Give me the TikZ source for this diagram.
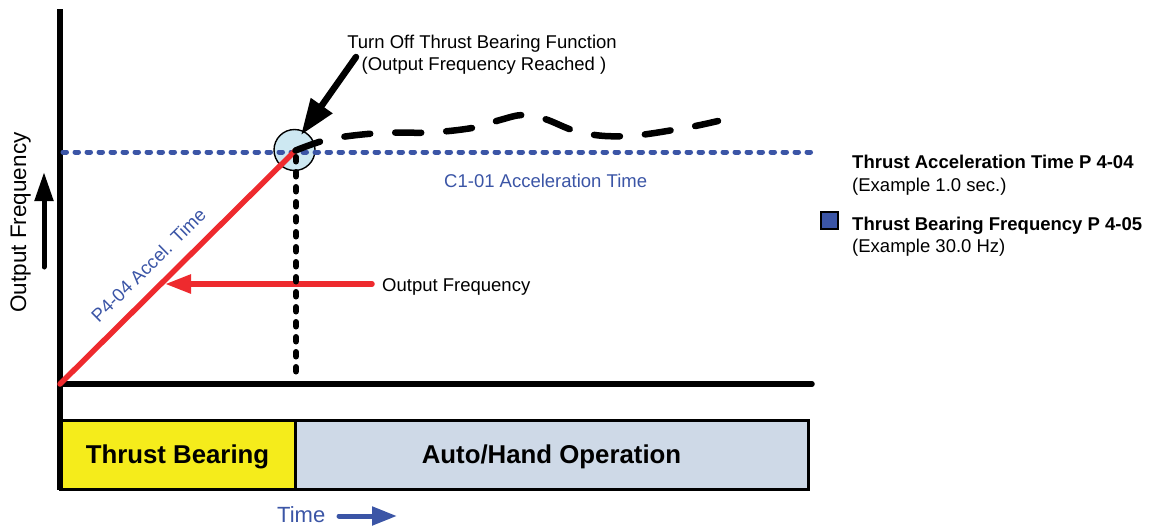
\documentclass[tikz,border=0pt]{standalone}
\usepackage{fontspec}
\setmainfont{Liberation Sans}
\usetikzlibrary{arrows.meta}
\definecolor{tblue}{HTML}{3B55A6}
\definecolor{tred}{HTML}{EE2A2E}
\definecolor{tyellow}{HTML}{F5EC1B}
\definecolor{tgray}{HTML}{CED9E7}
\definecolor{tcirc}{HTML}{CDE8F2}
\begin{document}
\begin{tikzpicture}[x=1pt,y=-1pt,
  lbl/.style={font=\fontsize{18.5}{22}\selectfont, inner sep=0pt},
  blbl/.style={font=\fontsize{18.5}{22}\selectfont\bfseries, inner sep=0pt},
  biglbl/.style={font=\fontsize{22.5}{26}\selectfont, inner sep=0pt},
  boxlbl/.style={font=\fontsize{25.8}{30}\selectfont\bfseries, inner sep=0pt,
    draw=black, line width=3pt, text height=18.5pt, text depth=0pt, minimum height=69pt},
  axisline/.style={line width=5.5pt},
  bluedots/.style={draw=tblue, line width=5pt, dash pattern=on 3.5pt off 8.5pt, line cap=round},
  blackdots/.style={draw=black, line width=6pt, dash pattern=on 4.5pt off 10.5pt, line cap=round},
  curvedash/.style={draw=black, line width=6.5pt, dash pattern=on 26pt off 25pt, line cap=round},
  redline/.style={draw=tred, line width=5.5pt},
  bigarrow/.style={line width=6.5pt, line cap=round, -{Triangle[length=36pt,width=25pt]}},
]
\useasboundingbox (0,0) rectangle (1155,525);

% bottom boxes
\node[boxlbl, fill=tyellow, minimum width=235pt] (tb) at (177.5,454.5) {Thrust Bearing};
\node[boxlbl, fill=tgray, minimum width=513pt] (ah) at (551.5,454.5) {Auto/Hand Operation};

% key coordinates
\coordinate (O) at (60,384);
\coordinate (ytop) at (60,9);
\coordinate (ybot) at (60,490);
\coordinate (xend) at (812,384);
\coordinate (P) at (295.5,150.5);
\coordinate (dl) at (63,152);
\coordinate (dr) at (815,152);
\coordinate (vtop) at (296,157);
\coordinate (vbot) at (296,381);

% circle marker
\node[circle, draw=black, line width=1.4pt, fill=tcirc, minimum size=41pt, inner sep=0pt] (circ) at (294.5,150) {};

% axes
\draw[axisline] (ytop) -- (ybot);
\draw[axisline, line cap=round] (O) -- (xend);

% dotted frequency level
\draw[bluedots] (dl) -- (dr);

% red ramp
\draw[redline, line cap=round] (O) -- (P);

% red arrow to ramp
\coordinate (rs) at (372,284);
\coordinate (re) at (165,284);
\draw[draw=tred, line width=5.5pt, line cap=round, -{Triangle[length=26pt,width=18pt]}, color=tred] (rs) -- (re);

% vertical dotted marker
\draw[blackdots] (vtop) -- (vbot);

% dashed output curve
\draw[curvedash] plot[smooth, tension=0.55] coordinates {(P) (330,139) (380,133) (430,132.5) (472,128) (500,120) (522,115) (545,119) (575,131) (605,136) (640,135) (690,127) (718,121)};

% black pointer arrow
\coordinate (bs) at (356,57);
\coordinate (be) at (301,135);
\draw[bigarrow] (bs) -- (be);

% y axis arrow
\coordinate (ys) at (44,267);
\coordinate (ye) at (44,172);
\draw[line width=5pt, line cap=round, -{Triangle[length=29pt,width=18pt]}] (ys) -- (ye);

% texts
\node[lbl, anchor=base] (turnoff) at (482,48) {Turn Off Thrust Bearing Function};
\node[lbl, anchor=base] (reached) at (484,70) {(Output Frequency Reached )};
\node[lbl, text=tblue, anchor=base west] (c101) at (444,187) {C1-01 Acceleration Time};
\node[lbl, anchor=base west] (ofreq) at (382,291) {Output Frequency};
\node[lbl, text=tblue, anchor=base, rotate=44.6] (p404) at (153,270) {P4-04 Accel. Time};
\node[biglbl, anchor=base, rotate=90] (yax) at (26,222.5) {Output Frequency};

% legend
\node[blbl, anchor=base west] (lg1) at (852,168) {Thrust Acceleration Time P 4-04};
\node[lbl, anchor=base west] (lg2) at (852,191) {(Example 1.0 sec.)};
\node[draw=black, line width=1.5pt, fill=tblue, minimum size=17pt, inner sep=0pt] (sq) at (829.5,220.5) {};
\node[blbl, anchor=base west] (lg3) at (852,230) {Thrust Bearing Frequency P 4-05};
\node[lbl, anchor=base west] (lg4) at (852,252) {(Example 30.0 Hz)};

% time label
\node[font=\fontsize{22}{26}\selectfont, inner sep=0pt, text=tblue, anchor=base west] (time) at (277,522) {Time};
\coordinate (ts) at (339,516);
\coordinate (te) at (397,516);
\draw[draw=tblue, line width=5pt, line cap=round, -{Triangle[length=25pt,width=18pt]}, color=tblue] (ts) -- (te);
\end{tikzpicture}
\end{document}
